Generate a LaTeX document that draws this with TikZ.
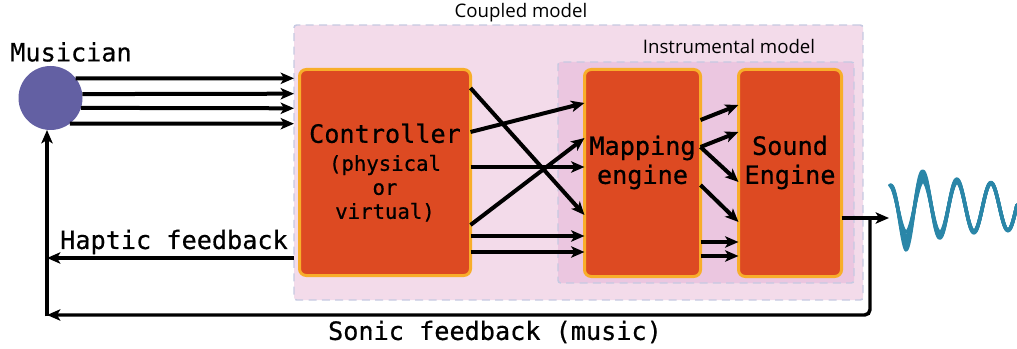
\documentclass[tikz,border=0pt]{standalone}
\usepackage{fontspec}
\setmainfont{Open Sans}
\setmonofont{DejaVu Sans Mono}[FakeBold=0.6]
\usetikzlibrary{arrows.meta,calc}
\definecolor{boxfill}{HTML}{DD4A22}
\definecolor{boxline}{HTML}{F8AE2A}
\definecolor{coupfill}{HTML}{F3DBEA}
\definecolor{instfill}{HTML}{EBC6E0}
\definecolor{dashcol}{HTML}{C6CAE2}
\definecolor{muscol}{HTML}{6360A3}
\definecolor{wavecol}{HTML}{2A86A8}
\newcommand\bigmono{\ttfamily\fontsize{18.9}{22}\selectfont}
\newcommand\smallmono{\ttfamily\fontsize{15.5}{18}\selectfont}
\begin{document}
\begin{tikzpicture}[x=0.75pt,y=-0.75pt,
  every node/.style={inner sep=0pt, outer sep=0pt},
  engine/.style={draw=boxline, fill=boxfill, line width=2.25pt, rounded corners=5pt},
  model/.style={draw=dashcol, line width=1.1pt, dash pattern=on 6pt off 4pt, rounded corners=2pt},
  arr/.style={line width=3pt, -{Stealth[length=10pt,width=8.5pt,inset=2.5pt]}},
  fb/.style={line width=2.6pt, -{Stealth[length=10pt,width=8.5pt,inset=2.5pt]}},
  monotext/.style={font=\bigmono},
  sanslabel/.style={font=\fontsize{14}{16}\selectfont},
  wave/.style={draw=wavecol, line width=2.6pt, line cap=round, line join=round},
  declare function={
    Amx(\u)=(\u<0)*(22+(\u+16)*1.3125)+(\u>=0)*(22+21*exp(-\u/40));
    Spr(\u)=(\u<0)*((\u+16)*1.125)+(\u>=0)*(18*exp(-\u/30));
  }]
\useasboundingbox (0,0) rectangle (1017,349);

% model frames
\node[model, fill=coupfill, minimum width=426.75pt, minimum height=206.25pt] (coupled) at (578.5,162.5) {};
\node[model, fill=instfill, minimum width=222pt, minimum height=165.75pt] (inst) at (706,172.5) {};
\node[sanslabel] (couplbl) at (521,13) {Coupled model};
\node[sanslabel] (instlbl) at (729,47) {Instrumental model};

% blocks
\node[engine, minimum width=128.25pt, minimum height=154.5pt, align=center, font=\smallmono] (ctrl) at (385,172.5)
  {{\bigmono Controller}\\[3pt](physical\\or\\virtual)};
\node[engine, minimum width=87pt, minimum height=155.25pt] (map) at (642.5,173) {};
\node[engine, minimum width=77.25pt, minimum height=155.25pt] (snd) at (790,173) {};
\node[monotext, align=center, font=\ttfamily\fontsize{18.9}{21.75}\selectfont] (maptext) at (642.5,162.5) {Mapping\\engine};
\node[monotext, align=center, font=\ttfamily\fontsize{18.9}{21.75}\selectfont] (sndtext) at (790,162.5) {Sound\\Engine};

% musician
\node[monotext] (muslbl) at (71,52) {Musician};
\node[circle, fill=muscol, minimum size=48pt] (mus) at (50.5,98) {};

\draw[arr] (mus.38)    -- ($(coupled.west)+(0,-84.2)$);
\draw[arr] (mus.7.7)   -- ($(coupled.west)+(0,-68.8)$);
\draw[arr] (mus.-18.8) -- ($(coupled.west)+(0,-54.2)$);
\draw[arr] (mus.-53.5) -- ($(coupled.west)+(0,-38.8)$);

% controller -> mapping
\draw[arr] ($(ctrl.east)+(0,-84.5)$) -- ($(map.west)+(0,42)$);
\draw[arr] ($(ctrl.east)+(0,-40.5)$) -- ($(map.west)+(0,-70)$);
\draw[arr] ($(ctrl.east)+(0,-5.5)$)  -- ($(map.west)+(0,-6)$);
\draw[arr] ($(ctrl.east)+(0,52.5)$)  -- ($(map.west)+(0,-35)$);
\draw[arr] ($(ctrl.east)+(0,63.5)$)  -- ($(map.west)+(0,63)$);
\draw[arr] ($(ctrl.east)+(0,79.5)$)  -- ($(map.west)+(0,79)$);

% mapping -> sound
\draw[arr] ($(map.east)+(0,-53)$) -- ($(snd.west)+(0,-68)$);
\draw[arr] ($(map.east)+(0,-26)$) -- ($(snd.west)+(0,-41)$);
\draw[arr] ($(map.east)+(0,-26)$) -- ($(snd.west)+(0,9)$);
\draw[arr] ($(map.east)+(0,12)$)  -- ($(snd.west)+(0,49)$);
\draw[arr] ($(map.east)+(0,69)$)  -- ($(snd.west)+(0,69)$);
\draw[arr] ($(map.east)+(0,83)$)  -- ($(snd.west)+(0,83)$);

% output and feedback
\coordinate (wstart) at (889,218);
\coordinate (j) at (870,218);
\coordinate (c) at (47,315);
\coordinate (hend) at (47,258);
\draw[arr] ($(snd.east)+(0,45)$) -- (wstart);
\draw[fb, rounded corners=4pt] (j) |- (c);
\draw[fb] ($(c)+(0,1.3)$) -- (c |- mus.south);
\draw[arr] ($(coupled.west)+(0,95.5)$) -- (hend);

\node[monotext] (haptic) at (174,242) {Haptic feedback};
\node[monotext] (sonic) at (495,332) {Sonic feedback (music)};

% sound wave
\foreach \t in {0,0.25,0.5,0.75,1}
  \draw[wave] plot[domain=-16:111, samples=200, smooth] ({906+\x},{207+(Amx(\x)-\t*Spr(\x))*cos(10.5882*\x)});
\end{tikzpicture}
\end{document}
